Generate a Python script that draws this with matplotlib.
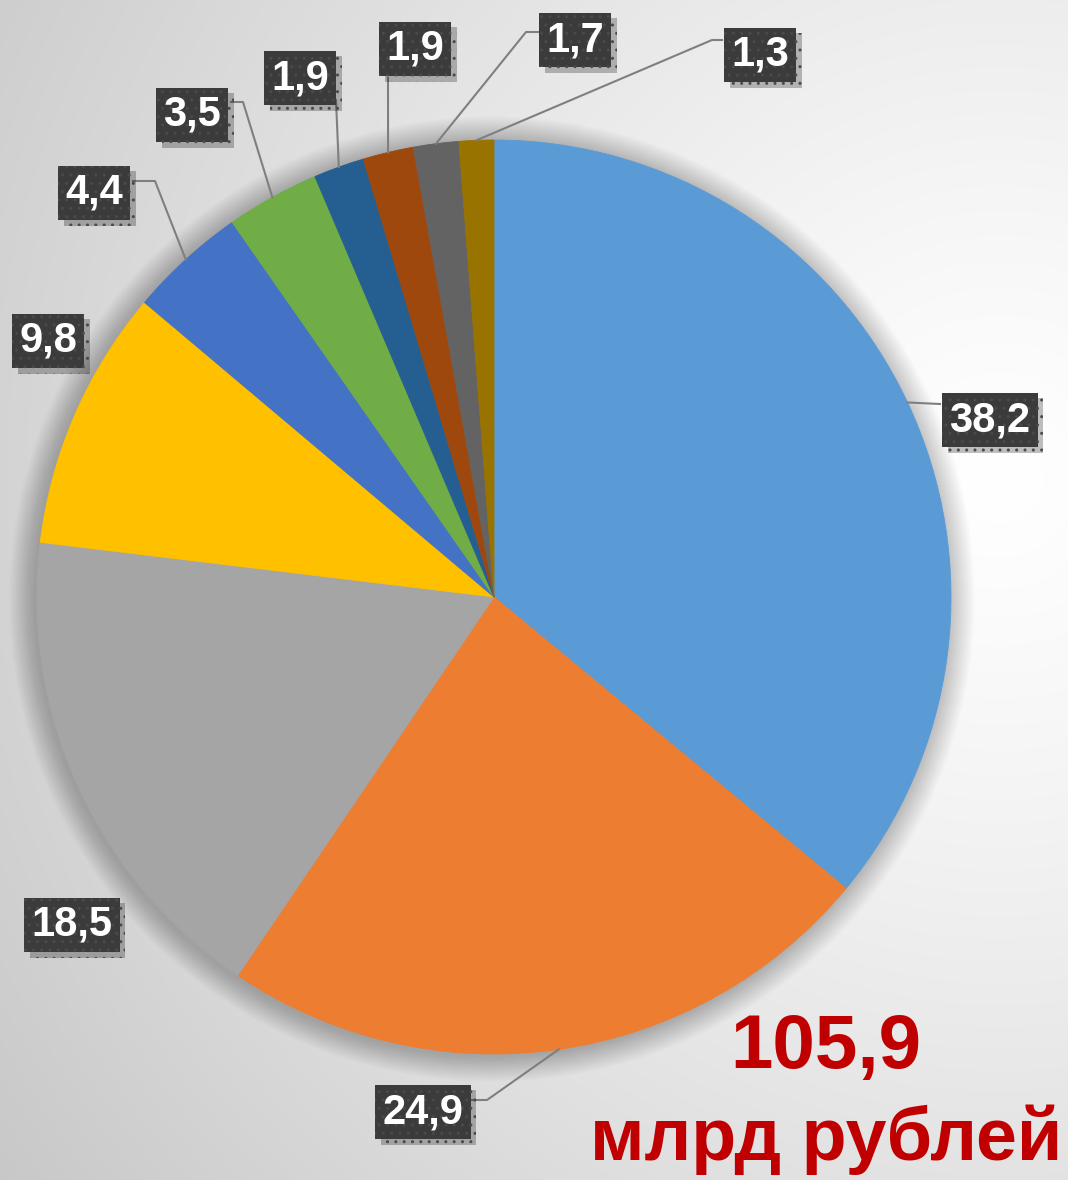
import numpy as np
import matplotlib.pyplot as plt
from matplotlib.patches import Circle
import matplotlib.patheffects as pe

plt.rcParams['font.family'] = ['Liberation Sans', 'DejaVu Sans']

# --------------------------
# DATA
# --------------------------
values = [38.2, 24.9, 18.5, 9.8, 4.4, 3.5, 1.9, 1.9, 1.7, 1.3]
labels = ["38,2", "24,9", "18,5", "9,8", "4,4", "3,5", "1,9", "1,9", "1,7", "1,3"]
colors = ["#5B9BD5", "#ED7D31", "#A5A5A5", "#FFC000", "#4472C4",
          "#70AD47", "#255E91", "#9E480E", "#636363", "#997300"]
total_text = "105,9"
unit_text = "млрд рублей"

# label box centres (image pixels, y down)
label_pos = [(990, 420), (423, 1112), (72, 925), (48, 341), (94, 193),
             (192, 115), (300, 78), (415, 49), (575, 40), (760, 55)]
# leader line: elbow point and box attach point (None = no leader)
leader_pts = [
    [(940, 404)],
    [(487, 1100), (472, 1100)],
    None,
    None,
    [(155, 181), (133, 181)],
    [(243, 102), (231, 102)],
    [(336, 100)],
    [(388, 78)],
    [(526, 32), (538, 32)],
    [(712, 40), (722, 40)],
]

W, H = 1068, 1180
cx, cy, R = 494, 597, 457

fig = plt.figure(figsize=(W / 100, H / 100), dpi=100)
ax = fig.add_axes([0, 0, 1, 1])

# --------------------------
# background gradient
# --------------------------
gx, gy = np.meshgrid(np.arange(W), np.arange(H))
d = np.sqrt((gx - 1000) ** 2 + (gy - 480) ** 2)
bg = np.clip(1.0 - 0.17 * (d / 1000) ** 1.2, 0, 1)
ax.imshow(np.dstack([bg, bg, bg]), extent=(0, W, 0, H), origin='upper', zorder=0)

# soft shadow around the pie
for i in range(20):
    ax.add_patch(Circle((cx - 2, H - cy - 2), R + 1 + i * 1.3, color='black',
                        alpha=0.011, lw=0, zorder=1))

wedges, _ = ax.pie(values, colors=colors, startangle=90, counterclock=False,
                   center=(cx, H - cy), radius=R,
                   wedgeprops=dict(linewidth=0))
for w, c in zip(wedges, colors):
    w.set_zorder(2)
    w.set_edgecolor(c)
    w.set_linewidth(0.6)

ax.set_xlim(0, W)
ax.set_ylim(0, H)
ax.axis('off')

# --------------------------
# leader lines
# --------------------------
for w, pts in zip(wedges, leader_pts):
    if pts is None:
        continue
    mid = np.deg2rad((w.theta1 + w.theta2) / 2)
    x0 = cx + R * np.cos(mid)
    y0 = (H - cy) + R * np.sin(mid)
    xs = [x0] + [p[0] for p in pts]
    ys = [y0] + [H - p[1] for p in pts]
    ax.plot(xs, ys, color='#7f7f7f', lw=1.5, zorder=3)

# --------------------------
# labels
# --------------------------
for lab, (lx, ly) in zip(labels, label_pos):
    t = ax.text(lx, H - ly, lab, fontsize=30, fontweight='bold', color='white',
                ha='center', va='center', zorder=5,
                bbox=dict(boxstyle='square,pad=0.17', fc='#3b3b3b', ec='#4a4a4a',
                          lw=0, hatch='..'))
    t.get_bbox_patch().set_path_effects(
        [pe.SimplePatchShadow(offset=(4, -4), shadow_rgbFace='black', alpha=0.25),
         pe.Normal()])

ax.text(826, H - 1048, total_text, fontsize=55, fontweight='bold',
        color='#C00000', ha='center', va='center', zorder=5)
ax.text(826, H - 1140, unit_text, fontsize=53, fontweight='bold',
        color='#C00000', ha='center', va='center', zorder=5)

plt.savefig("out.png", dpi=100)
